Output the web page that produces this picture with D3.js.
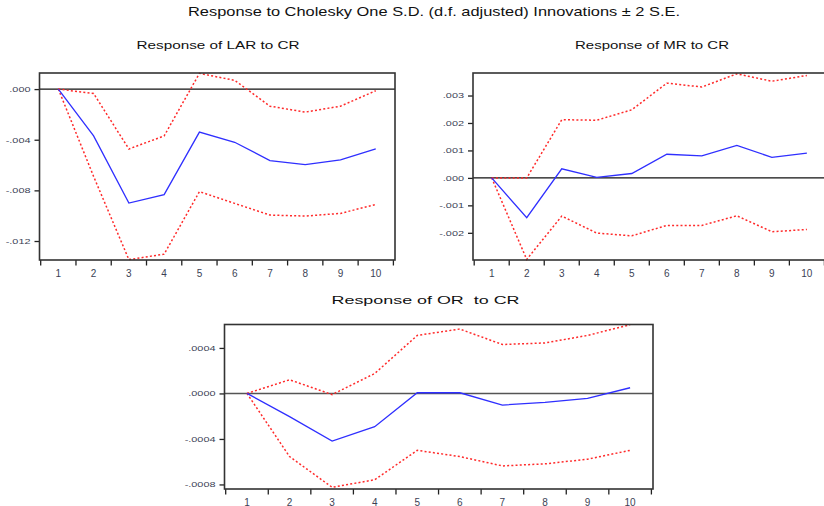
<!DOCTYPE html>
<html>
<head>
<meta charset="utf-8">
<script src="https://cdn.jsdelivr.net/npm/d3@7"></script>
<style>
  html, body { margin: 0; padding: 0; background: #fff; }
  svg { display: block; }
  text { font-family: "Liberation Sans", Arial, sans-serif; white-space: pre; }
</style>
</head>
<body>
<svg id="chart" width="824" height="506"></svg>
<script>
// ---------- data ----------
const steps = [1, 2, 3, 4, 5, 6, 7, 8, 9, 10];

const larResp  = [0, -0.0037, -0.0090, -0.00834, -0.0034, -0.0042, -0.00565, -0.00597, -0.0056, -0.00473];
const larUpper = [0, -0.00035, -0.00473, -0.0037, 0.00124, 0.00069, -0.00135, -0.00182, -0.00135, -0.00013];
const larLower = [0, -0.0069, -0.01347, -0.01304, -0.0081, -0.00903, -0.00995, -0.01003, -0.00982, -0.00911];
const larTicks = [0, -0.004, -0.008, -0.012];
const larTickLabels = [".000", "-.004", "-.008", "-.012"];
const larDomain = [-0.0135, 0.00127];

const mrResp  = [0, -0.00145, 0.00033, 0.00002, 0.00016, 0.00086, 0.0008, 0.00118, 0.00075, 0.0009];
const mrUpper = [0, 0, 0.00212, 0.0021, 0.00248, 0.00345, 0.00331, 0.00379, 0.00352, 0.00373];
const mrLower = [0, -0.00297, -0.00139, -0.00201, -0.00211, -0.00173, -0.00173, -0.00138, -0.00196, -0.00188];
const mrTicks = [0.003, 0.002, 0.001, 0, -0.001, -0.002];
const mrTickLabels = [".003", ".002", ".001", ".000", "-.001", "-.002"];
const mrDomain = [-0.00299, 0.00382];

const orResp  = [0, -0.000204, -0.000418, -0.000292, 0.000006, 0.000006, -0.000102, -0.000079, -0.000044, 0.00005];
const orUpper = [0, 0.00012, -0.00001, 0.000175, 0.00051, 0.000566, 0.00043, 0.000444, 0.00051, 0.000604];
const orLower = [0, -0.000555, -0.000825, -0.000759, -0.0005, -0.000555, -0.000637, -0.000619, -0.000578, -0.0005];
const orTicks = [0.0004, 0, -0.0004, -0.0008];
const orTickLabels = [".0004", ".0000", "-.0004", "-.0008"];
const orDomain = [-0.00084, 0.000606];

const mainTitle = "Response to Cholesky One S.D. (d.f. adjusted) Innovations \u00B1 2 S.E.";
const panelTitles = ["Response of LAR to CR", "Response of MR to CR", "Response of OR  to CR"];

// ---------- drawing ----------
const svg = d3.select("#chart");

function stretchText(sel, targetW) {
  sel.each(function () {
    const w = this.getComputedTextLength();
    if (w > 0) d3.select(this).attr("textLength", targetW).attr("lengthAdjust", "spacingAndGlyphs");
  });
}
function stretchBy(sel, factor) {
  sel.each(function () {
    const w = this.getComputedTextLength();
    if (w > 0) d3.select(this).attr("textLength", w * factor).attr("lengthAdjust", "spacingAndGlyphs");
  });
}

// main title
svg.append("text")
  .attr("x", 434).attr("y", 16)
  .attr("text-anchor", "middle")
  .attr("font-size", 13.5)
  .attr("fill", "#111")
  .text(mainTitle)
  .call(stretchText, 492);

const panels = [
  { title: panelTitles[0], tw: 163, tx: 218, ty: 49, box: [39.5, 395, 73, 260], resp: larResp, up: larUpper, lo: larLower, ticks: larTicks, labels: larTickLabels, domain: larDomain, zeroColor: "#111", zeroW: 1.1 },
  { title: panelTitles[1], tw: 154, tx: 652, ty: 49, box: [473, 826, 73, 260], resp: mrResp, up: mrUpper, lo: mrLower, ticks: mrTicks, labels: mrTickLabels, domain: mrDomain, zeroColor: "#111", zeroW: 1.1 },
  { title: panelTitles[2], tw: 188, tx: 425.5, ty: 303.5, box: [224.5, 653, 324.5, 489], resp: orResp, up: orUpper, lo: orLower, ticks: orTicks, labels: orTickLabels, domain: orDomain, zeroColor: "#555", zeroW: 1.6 }
];

panels.forEach(p => {
  const [x0, x1, y0, y1] = p.box;
  const g = svg.append("g");

  const x = d3.scaleBand().domain(steps).range([x0 + 1.2, x1 - 1.6]).padding(0);
  const cx = d => x(d) + x.bandwidth() / 2;
  const y = d3.scaleLinear().domain(p.domain).range([y1, y0]);

  // subtitle
  g.append("text")
    .attr("x", p.tx).attr("y", p.ty)
    .attr("text-anchor", "middle")
    .attr("font-size", 11)
    .attr("fill", "#111")
    .attr("xml:space", "preserve")
    .text(p.title)
    .call(stretchText, p.tw);

  // y axis (ticks outside left)
  const yAxis = d3.axisLeft(y).tickValues(p.ticks)
    .tickFormat((d, i) => p.labels[i]).tickSize(5).tickPadding(4);
  const ya = g.append("g").attr("transform", `translate(${x0},0)`).call(yAxis);
  ya.select(".domain").remove();
  ya.selectAll(".tick line").attr("stroke", "#222").attr("stroke-width", 1.3);
  ya.selectAll(".tick text")
    .attr("font-size", 7.5).attr("fill", "#3b3f55")
    .attr("font-family", "Liberation Sans, Arial, sans-serif")
    .call(stretchBy, 1.45);

  // x axis: ticks at band boundaries, labels at band centres
  const xa = g.append("g").attr("transform", `translate(0,${y1})`);
  const bounds = steps.map(d => x(d)).concat([x(steps[steps.length - 1]) + x.bandwidth()]);
  xa.selectAll("line.xt").data(bounds).join("line")
    .attr("class", "xt")
    .attr("x1", d => d).attr("x2", d => d)
    .attr("y1", 0).attr("y2", 5.5)
    .attr("stroke", "#222").attr("stroke-width", 1.3);
  xa.selectAll("text.xl").data(steps).join("text")
    .attr("class", "xl")
    .attr("x", d => cx(d)).attr("y", 16.5)
    .attr("text-anchor", "middle")
    .attr("font-size", 10)
    .attr("fill", "#3b3f55")
    .text(d => d);

  // zero line
  g.append("line")
    .attr("x1", x0).attr("x2", x1)
    .attr("y1", y(0)).attr("y2", y(0))
    .attr("stroke", p.zeroColor).attr("stroke-width", p.zeroW);

  const line = d3.line().x((d, i) => cx(steps[i])).y(d => y(d));

  [p.up, p.lo].forEach(arr => {
    g.append("path").datum(arr)
      .attr("d", line)
      .attr("fill", "none")
      .attr("stroke", "#ff2a2a")
      .attr("stroke-width", 1.5)
      .attr("stroke-dasharray", "2,2.2");
  });

  g.append("path").datum(p.resp)
    .attr("d", line)
    .attr("fill", "none")
    .attr("stroke", "#2f2fff")
    .attr("stroke-width", 1.3);

  // frame
  g.append("rect")
    .attr("x", x0).attr("y", y0)
    .attr("width", x1 - x0).attr("height", y1 - y0)
    .attr("fill", "none")
    .attr("stroke", "#333")
    .attr("stroke-width", 1.6);
});
</script>
</body>
</html>
